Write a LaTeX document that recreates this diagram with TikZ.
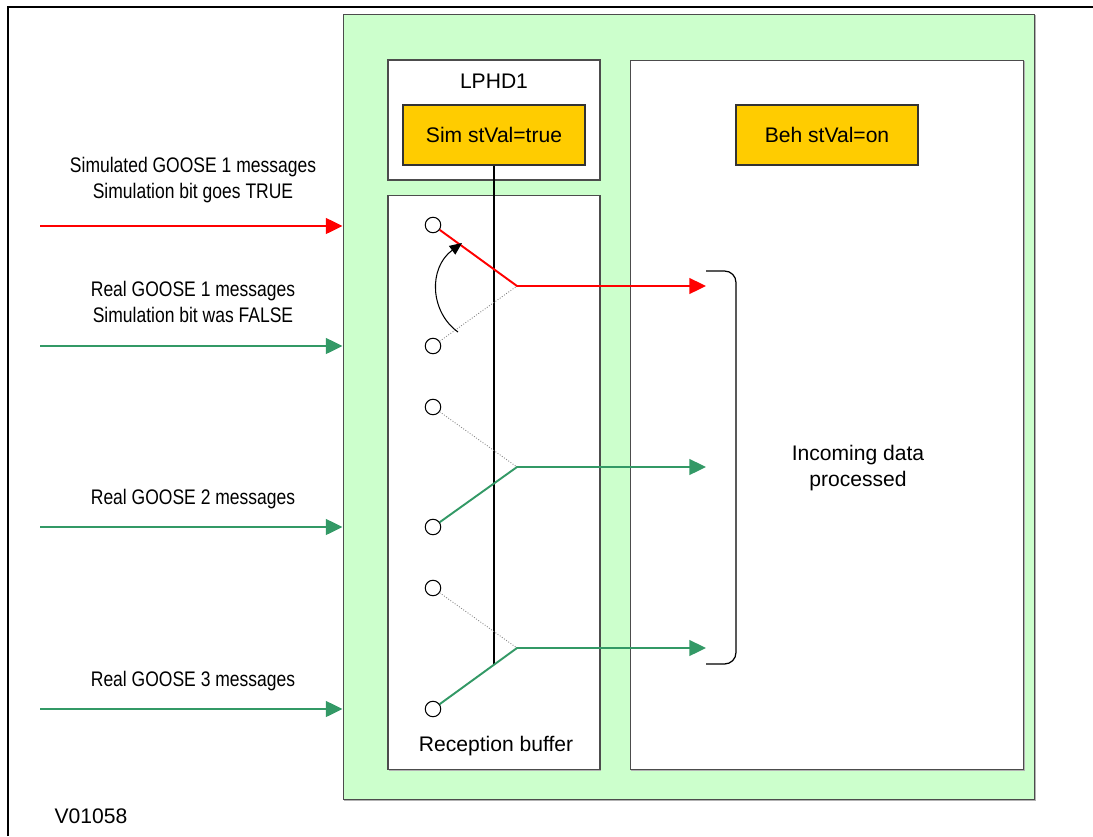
\documentclass[tikz,border=0pt]{standalone}
\usepackage{fontspec}
\setmainfont{Liberation Sans}
\newfontfamily\narrowsans{Liberation Sans}[FakeStretch=0.83]
\usetikzlibrary{arrows.meta, positioning, shadows}

\definecolor{panelgreen}{HTML}{CCFFCC}
\definecolor{statusyellow}{HTML}{FFCC00}
\definecolor{gooseGreen}{HTML}{339966}
\definecolor{gooseRed}{HTML}{FF0000}

\begin{document}
\begin{tikzpicture}[
  x=0.02cm, y=-0.02cm,
  font=\fontsize{12}{14.8}\selectfont,
  panel/.style={rectangle, draw=gray!60!black, line width=0.6pt, fill=white,
                inner sep=0pt,
                drop shadow={shadow xshift=0.8pt, shadow yshift=-0.8pt,
                             fill=gray!60, opacity=1}},
  status/.style={rectangle, draw=black!80, line width=0.6pt, fill=statusyellow,
                 minimum width=3.64cm, minimum height=1.2cm},
  contact/.style={circle, draw, line width=0.6pt, fill=white,
                  minimum size=0.31cm, inner sep=0pt},
  msg/.style={font=\narrowsans\fontsize{12}{14.8}\selectfont, align=center},
  feed/.style={-{Triangle[length=9.5pt, width=9pt]}, line width=1.1pt},
  idle/.style={densely dotted, gray, line width=0.5pt}
]
  \useasboundingbox (0,0) rectangle (1093,836);

  % Outer frame (open to the right and bottom)
  \coordinate (framebl) at (8,836);
  \coordinate (frametr) at (1093,7);
  \draw[line width=1.7pt] (framebl) |- (frametr);

  % IED (green) with LPHD1, reception buffer and logic panels
  \node[panel, fill=panelgreen, draw=black!70,
        minimum width=13.84cm, minimum height=15.72cm] (ied) at (689,407) {};
  \node[panel, minimum width=4.24cm, minimum height=2.4cm]  (lphd)   at (494,120) {};
  \node[panel, minimum width=4.24cm, minimum height=11.5cm] (buffer) at (494,482.5) {};
  \node[panel, minimum width=7.88cm, minimum height=14.2cm] (logic)  at (827,415) {};

  \node[status] (sim) at (494,135) {Sim stVal=true};
  \node[status] (beh) at (827,135) {Beh stVal=on};
  \node (lphdname)   at (494,81)  {LPHD1};
  \node (buffername) at (496,746) {Reception buffer};
  \node[align=center] (incoming) at (858,468) {Incoming data\\processed};

  % Simulation switch line
  \coordinate (simend) at (494,664);
  \draw[line width=0.6pt] (sim.south) -- (simend);

  % Contacts and switch points
  \foreach \n/\yy in {1/225, 2/346, 3/407, 4/527, 5/588, 6/709}
    \node[contact] (c\n) at (433,\yy) {};
  \coordinate (j1) at (517,286);
  \coordinate (j2) at (517,467);
  \coordinate (j3) at (517,648);
  \coordinate (o1) at (706,286);
  \coordinate (o2) at (706,467);
  \coordinate (o3) at (706,648);

  \draw[idle] (c2) -- (j1);
  \draw[idle] (c3) -- (j2);
  \draw[idle] (c5) -- (j3);

  \draw[feed, gooseRed]   (c1) -- (j1) -- (o1);
  \draw[feed, gooseGreen] (c4) -- (j2) -- (o2);
  \draw[feed, gooseGreen] (c6) -- (j3) -- (o3);

  % Changeover arrow
  \coordinate (swfrom) at (458,332);
  \coordinate (swto)   at (462,243);
  \draw[-{Triangle[length=7pt, width=6pt]}, line width=0.6pt]
    (swfrom) .. controls (430,312) and (428,268) .. (swto);

  % Bracket
  \coordinate (brtop) at (706,271);
  \coordinate (brmid) at (736,467);
  \coordinate (brbot) at (706,664);
  \draw[line width=0.7pt, rounded corners=6.5pt] (brtop) -| (brmid) |- (brbot);

  % Incoming messages
  \coordinate (in1) at (40,226);
  \coordinate (in2) at (40,346);
  \coordinate (in3) at (40,527);
  \coordinate (in4) at (40,709);
  \draw[feed, gooseRed]   (in1) -- (in1 -| ied.west);
  \draw[feed, gooseGreen] (in2) -- (in2 -| ied.west);
  \draw[feed, gooseGreen] (in3) -- (in3 -| ied.west);
  \draw[feed, gooseGreen] (in4) -- (in4 -| ied.west);

  \node[msg] (lbl1) at (193,180) {Simulated GOOSE 1 messages\\Simulation bit goes TRUE};
  \node[msg] (lbl2) at (193,302) {Real GOOSE 1 messages\\Simulation bit was FALSE};
  \node[msg] (lbl3) at (193,499) {Real GOOSE 2 messages};
  \node[msg] (lbl4) at (193,681) {Real GOOSE 3 messages};

  \node (figid) at (91,816) {V01058};
\end{tikzpicture}
\end{document}
